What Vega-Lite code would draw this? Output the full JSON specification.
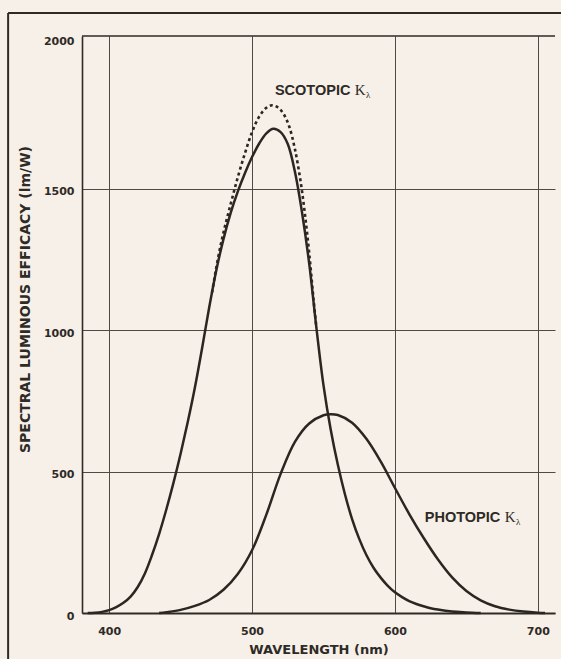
{
  "$schema": "https://vega.github.io/schema/vega-lite/v6.json",
  "width": 473,
  "height": 577,
  "autosize": {"type": "none"},
  "padding": {"left": 82, "top": 36, "right": 6, "bottom": 46},
  "background": "#f7f0e8",
  "config": {"view": {"stroke": null}, "font": "DejaVu Sans"},
  "datasets": {
    "curves": [
      {"curve": "scotopic", "wavelength": 385, "efficacy": 0},
      {"curve": "scotopic", "wavelength": 390, "efficacy": 1},
      {"curve": "scotopic", "wavelength": 395, "efficacy": 4},
      {"curve": "scotopic", "wavelength": 400, "efficacy": 10},
      {"curve": "scotopic", "wavelength": 405, "efficacy": 21},
      {"curve": "scotopic", "wavelength": 410, "efficacy": 36},
      {"curve": "scotopic", "wavelength": 415, "efficacy": 58},
      {"curve": "scotopic", "wavelength": 420, "efficacy": 92},
      {"curve": "scotopic", "wavelength": 425, "efficacy": 140},
      {"curve": "scotopic", "wavelength": 430, "efficacy": 205},
      {"curve": "scotopic", "wavelength": 435, "efficacy": 280},
      {"curve": "scotopic", "wavelength": 440, "efficacy": 366},
      {"curve": "scotopic", "wavelength": 445, "efficacy": 460},
      {"curve": "scotopic", "wavelength": 450, "efficacy": 563},
      {"curve": "scotopic", "wavelength": 455, "efficacy": 675},
      {"curve": "scotopic", "wavelength": 460, "efficacy": 797},
      {"curve": "scotopic", "wavelength": 465, "efficacy": 935},
      {"curve": "scotopic", "wavelength": 470, "efficacy": 1080},
      {"curve": "scotopic", "wavelength": 475, "efficacy": 1212},
      {"curve": "scotopic", "wavelength": 480, "efficacy": 1322},
      {"curve": "scotopic", "wavelength": 485, "efficacy": 1414},
      {"curve": "scotopic", "wavelength": 490, "efficacy": 1490},
      {"curve": "scotopic", "wavelength": 495, "efficacy": 1555},
      {"curve": "scotopic", "wavelength": 500, "efficacy": 1612},
      {"curve": "scotopic", "wavelength": 505, "efficacy": 1660},
      {"curve": "scotopic", "wavelength": 510, "efficacy": 1696},
      {"curve": "scotopic", "wavelength": 515, "efficacy": 1712},
      {"curve": "scotopic", "wavelength": 520, "efficacy": 1700},
      {"curve": "scotopic", "wavelength": 525, "efficacy": 1658},
      {"curve": "scotopic", "wavelength": 530, "efficacy": 1560},
      {"curve": "scotopic", "wavelength": 535, "efficacy": 1415},
      {"curve": "scotopic", "wavelength": 540, "efficacy": 1235},
      {"curve": "scotopic", "wavelength": 545, "efficacy": 1010},
      {"curve": "scotopic", "wavelength": 550, "efficacy": 805},
      {"curve": "scotopic", "wavelength": 555, "efficacy": 650},
      {"curve": "scotopic", "wavelength": 560, "efficacy": 525},
      {"curve": "scotopic", "wavelength": 565, "efficacy": 420},
      {"curve": "scotopic", "wavelength": 570, "efficacy": 332},
      {"curve": "scotopic", "wavelength": 575, "efficacy": 262},
      {"curve": "scotopic", "wavelength": 580, "efficacy": 205},
      {"curve": "scotopic", "wavelength": 585, "efficacy": 160},
      {"curve": "scotopic", "wavelength": 590, "efficacy": 125},
      {"curve": "scotopic", "wavelength": 595, "efficacy": 96},
      {"curve": "scotopic", "wavelength": 600, "efficacy": 73},
      {"curve": "scotopic", "wavelength": 605, "efficacy": 56},
      {"curve": "scotopic", "wavelength": 610, "efficacy": 42},
      {"curve": "scotopic", "wavelength": 615, "efficacy": 32},
      {"curve": "scotopic", "wavelength": 620, "efficacy": 24},
      {"curve": "scotopic", "wavelength": 625, "efficacy": 17},
      {"curve": "scotopic", "wavelength": 630, "efficacy": 12},
      {"curve": "scotopic", "wavelength": 640, "efficacy": 5},
      {"curve": "scotopic", "wavelength": 650, "efficacy": 2},
      {"curve": "scotopic", "wavelength": 660, "efficacy": 0},
      {"curve": "scotopic_alt", "wavelength": 472, "efficacy": 1133},
      {"curve": "scotopic_alt", "wavelength": 476, "efficacy": 1250},
      {"curve": "scotopic_alt", "wavelength": 480, "efficacy": 1345},
      {"curve": "scotopic_alt", "wavelength": 485, "efficacy": 1445},
      {"curve": "scotopic_alt", "wavelength": 490, "efficacy": 1540},
      {"curve": "scotopic_alt", "wavelength": 495, "efficacy": 1625},
      {"curve": "scotopic_alt", "wavelength": 500, "efficacy": 1700},
      {"curve": "scotopic_alt", "wavelength": 505, "efficacy": 1755},
      {"curve": "scotopic_alt", "wavelength": 510, "efficacy": 1786},
      {"curve": "scotopic_alt", "wavelength": 514, "efficacy": 1795},
      {"curve": "scotopic_alt", "wavelength": 518, "efficacy": 1788},
      {"curve": "scotopic_alt", "wavelength": 522, "efficacy": 1765},
      {"curve": "scotopic_alt", "wavelength": 526, "efficacy": 1720},
      {"curve": "scotopic_alt", "wavelength": 530, "efficacy": 1640},
      {"curve": "scotopic_alt", "wavelength": 534, "efficacy": 1525},
      {"curve": "scotopic_alt", "wavelength": 537, "efficacy": 1410},
      {"curve": "scotopic_alt", "wavelength": 540, "efficacy": 1272},
      {"curve": "scotopic_alt", "wavelength": 543, "efficacy": 1110},
      {"curve": "scotopic_alt", "wavelength": 545, "efficacy": 1010},
      {"curve": "photopic", "wavelength": 435, "efficacy": 0},
      {"curve": "photopic", "wavelength": 440, "efficacy": 3},
      {"curve": "photopic", "wavelength": 450, "efficacy": 11},
      {"curve": "photopic", "wavelength": 460, "efficacy": 25},
      {"curve": "photopic", "wavelength": 470, "efficacy": 46},
      {"curve": "photopic", "wavelength": 480, "efficacy": 82},
      {"curve": "photopic", "wavelength": 490, "efficacy": 138},
      {"curve": "photopic", "wavelength": 500, "efficacy": 222},
      {"curve": "photopic", "wavelength": 510, "efficacy": 348},
      {"curve": "photopic", "wavelength": 520, "efficacy": 492},
      {"curve": "photopic", "wavelength": 530, "efficacy": 605},
      {"curve": "photopic", "wavelength": 540, "efficacy": 670},
      {"curve": "photopic", "wavelength": 550, "efficacy": 699},
      {"curve": "photopic", "wavelength": 555, "efficacy": 703},
      {"curve": "photopic", "wavelength": 560, "efficacy": 700},
      {"curve": "photopic", "wavelength": 570, "efficacy": 673},
      {"curve": "photopic", "wavelength": 580, "efficacy": 616},
      {"curve": "photopic", "wavelength": 590, "efficacy": 536},
      {"curve": "photopic", "wavelength": 600, "efficacy": 442},
      {"curve": "photopic", "wavelength": 610, "efficacy": 350},
      {"curve": "photopic", "wavelength": 620, "efficacy": 266},
      {"curve": "photopic", "wavelength": 630, "efficacy": 190},
      {"curve": "photopic", "wavelength": 640, "efficacy": 126},
      {"curve": "photopic", "wavelength": 650, "efficacy": 78},
      {"curve": "photopic", "wavelength": 660, "efficacy": 45},
      {"curve": "photopic", "wavelength": 670, "efficacy": 24},
      {"curve": "photopic", "wavelength": 680, "efficacy": 12},
      {"curve": "photopic", "wavelength": 690, "efficacy": 5},
      {"curve": "photopic", "wavelength": 700, "efficacy": 1},
      {"curve": "photopic", "wavelength": 705, "efficacy": 0}
    ]
  },
  "layer": [
    {
      "data": {"name": "curves"},
      "transform": [{"filter": "datum.curve === 'scotopic'"}],
      "mark": {"type": "line", "color": "#2b2622", "strokeWidth": 2.5, "interpolate": "catmull-rom"},
      "encoding": {
        "x": {
          "field": "wavelength", "type": "quantitative",
          "scale": {"domain": [381, 712], "nice": false, "zero": false},
          "axis": {
            "values": [400, 500, 600, 700],
            "format": "d",
            "title": "WAVELENGTH (nm)",
            "grid": true, "gridColor": "#4f4a45", "gridWidth": 1,
            "ticks": false,
            "domainColor": "#2e2a26", "domainWidth": 2,
            "labelFont": "DejaVu Sans", "labelFontWeight": "bold", "labelFontSize": 11, "labelColor": "#2e2a26",
            "labelPadding": 12,
            "titleFont": "DejaVu Sans", "titleFontSize": 13, "titleFontWeight": "bold", "titleColor": "#2e2a26",
            "titlePadding": 7
          }
        },
        "y": {
          "field": "efficacy", "type": "quantitative",
          "scale": {"domain": [0, 2040], "nice": false, "zero": true},
          "axis": {
            "values": [0, 500, 1000, 1500, 2000],
            "format": "d",
            "title": "SPECTRAL LUMINOUS EFFICACY (lm/W)",
            "grid": true, "gridColor": "#4f4a45", "gridWidth": 1,
            "gridOpacity": {"condition": {"test": "datum.value === 2000", "value": 0}, "value": 1},
            "ticks": false,
            "domainColor": "#2e2a26", "domainWidth": 1.6,
            "labelFont": "DejaVu Sans", "labelFontWeight": "bold", "labelFontSize": 11, "labelColor": "#2e2a26",
            "labelPadding": 8,
            "labelOffset": {"condition": {"test": "datum.value === 2000", "value": -6}, "value": 3},
            "titleFont": "DejaVu Sans", "titleFontSize": 14, "titleFontWeight": "bold", "titleColor": "#2e2a26",
            "titleX": -57, "titleY": 263, "titleBaseline": "middle"
          }
        }
      }
    },
    {
      "data": {"name": "curves"},
      "transform": [{"filter": "datum.curve === 'photopic'"}],
      "mark": {"type": "line", "color": "#2b2622", "strokeWidth": 2.5, "interpolate": "catmull-rom"},
      "encoding": {
        "x": {"field": "wavelength", "type": "quantitative"},
        "y": {"field": "efficacy", "type": "quantitative"}
      }
    },
    {
      "data": {"name": "curves"},
      "transform": [{"filter": "datum.curve === 'scotopic_alt'"}],
      "mark": {"type": "line", "color": "#2b2622", "strokeWidth": 2.6, "strokeDash": [3, 3], "interpolate": "catmull-rom"},
      "encoding": {
        "x": {"field": "wavelength", "type": "quantitative"},
        "y": {"field": "efficacy", "type": "quantitative"}
      }
    },
    {
      "data": {"values": [{}]},
      "mark": {"type": "rule", "color": "#2e2a26", "strokeWidth": 1.6},
      "encoding": {"y": {"datum": 2040, "type": "quantitative"}}
    },
    {
      "data": {"values": [{}]},
      "mark": {"type": "rule", "color": "#2e2a26", "strokeWidth": 2},
      "encoding": {
        "x": {"datum": 329.3, "type": "quantitative"},
        "y": {"datum": -170, "type": "quantitative"},
        "y2": {"datum": 2121}
      }
    },
    {
      "data": {"values": [{}]},
      "mark": {"type": "rule", "color": "#2e2a26", "strokeWidth": 2},
      "encoding": {
        "x": {"datum": 329.3, "type": "quantitative"},
        "x2": {"datum": 720},
        "y": {"datum": 2121, "type": "quantitative"}
      }
    },
    {
      "data": {"values": [{}]},
      "mark": {"type": "text", "text": "SCOTOPIC", "font": "Liberation Sans", "fontWeight": "bold", "fontSize": 14.5, "color": "#2e2a26", "align": "left", "baseline": "alphabetic"},
      "encoding": {"x": {"datum": 516, "type": "quantitative"}, "y": {"datum": 1832, "type": "quantitative"}}
    },
    {
      "data": {"values": [{}]},
      "mark": {"type": "text", "text": "K", "font": "Liberation Serif", "fontSize": 15, "color": "#2e2a26", "align": "left", "baseline": "alphabetic"},
      "encoding": {"x": {"datum": 571.9, "type": "quantitative"}, "y": {"datum": 1832, "type": "quantitative"}}
    },
    {
      "data": {"values": [{}]},
      "mark": {"type": "text", "text": "λ", "font": "Liberation Serif", "fontSize": 9, "color": "#2e2a26", "align": "left", "baseline": "alphabetic"},
      "encoding": {"x": {"datum": 579.8, "type": "quantitative"}, "y": {"datum": 1820, "type": "quantitative"}}
    },
    {
      "data": {"values": [{}]},
      "mark": {"type": "text", "text": "PHOTOPIC", "font": "Liberation Sans", "fontWeight": "bold", "fontSize": 14.5, "color": "#2e2a26", "align": "left", "baseline": "alphabetic"},
      "encoding": {"x": {"datum": 620.9, "type": "quantitative"}, "y": {"datum": 323, "type": "quantitative"}}
    },
    {
      "data": {"values": [{}]},
      "mark": {"type": "text", "text": "K", "font": "Liberation Serif", "fontSize": 15, "color": "#2e2a26", "align": "left", "baseline": "alphabetic"},
      "encoding": {"x": {"datum": 676.8, "type": "quantitative"}, "y": {"datum": 323, "type": "quantitative"}}
    },
    {
      "data": {"values": [{}]},
      "mark": {"type": "text", "text": "λ", "font": "Liberation Serif", "fontSize": 9, "color": "#2e2a26", "align": "left", "baseline": "alphabetic"},
      "encoding": {"x": {"datum": 684.7, "type": "quantitative"}, "y": {"datum": 311, "type": "quantitative"}}
    }
  ]
}
